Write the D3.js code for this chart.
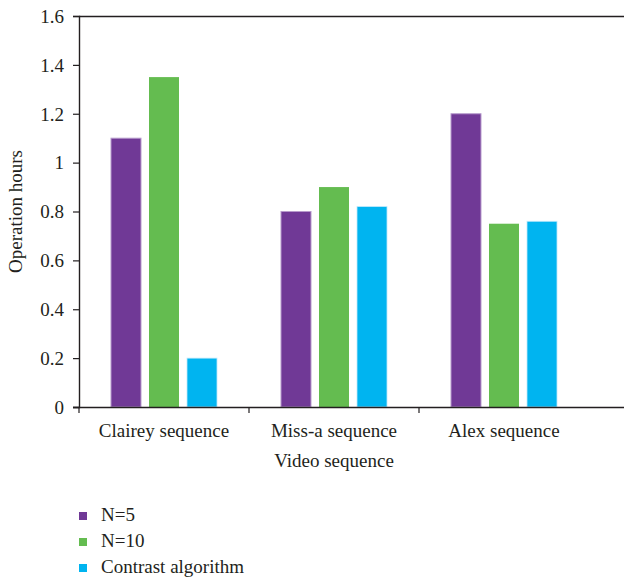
<!DOCTYPE html>
<html>
<head>
<meta charset="utf-8">
<script src="https://cdn.jsdelivr.net/npm/d3@7/dist/d3.min.js"></script>
<style>
  html, body { margin: 0; padding: 0; background: #fff; }
  svg { display: block; }
</style>
</head>
<body>
<div id="chart"></div>
<script>
const categories = ["Clairey sequence", "Miss-a sequence", "Alex sequence"];
const seriesNames = ["N=5", "N=10", "Contrast algorithm"];
const seriesColors = ["#703996", "#64bc50", "#00b4f0"];
const n5 = [1.1, 0.8, 1.2];
const n10 = [1.35, 0.9, 0.75];
const contrast = [0.2, 0.82, 0.76];
const yTicks = [0, 0.2, 0.4, 0.6, 0.8, 1, 1.2, 1.4, 1.6];
const xTitle = "Video sequence";
const yTitle = "Operation hours";

(function () {
const FONT = "'Liberation Serif', serif";
const FS = "19px";
const TXT = "#231f20";
const seriesValues = [n5, n10, contrast];

const W = 624, H = 582;
const svg = d3.select("#chart").append("svg").attr("width", W).attr("height", H)
  .style("font-family", FONT).style("font-size", FS);

const mLeft = 79, mRight = 589, mTop = 16, mBottom = 407;

const x = d3.scaleBand().domain(categories).range([mLeft, mRight]);
const xs = d3.scaleBand().domain(seriesNames).range([0, x.bandwidth()]).paddingInner(0.2105).paddingOuter(0.842);
const y = d3.scaleLinear().domain([0, 1.6]).range([mBottom, mTop]);

function txt(sel) {
  sel.style("font-family", FONT).style("font-size", FS).attr("fill", TXT);
}

// bars
categories.forEach((c, ci) => {
  seriesNames.forEach((s, si) => {
    const v = seriesValues[si][ci];
    svg.append("rect")
      .attr("x", x(c) + xs(s))
      .attr("y", y(v))
      .attr("width", xs.bandwidth())
      .attr("height", y(0) - y(v))
      .attr("fill", seriesColors[si])
      .attr("stroke", si === 0 ? "#b79bcc" : (si === 2 ? "#bfe9fb" : "none"))
      .attr("stroke-width", si === 0 ? 1 : 0.8);
  });
});

// top line
svg.append("line").attr("x1", mLeft).attr("x2", W).attr("y1", mTop + 0.5).attr("y2", mTop + 0.5)
  .attr("stroke", TXT).attr("stroke-width", 1.4);

// y axis
const yAxis = svg.append("g").attr("transform", `translate(${mLeft},0)`)
  .call(d3.axisLeft(y).tickValues(yTicks).tickSize(6).tickPadding(9).tickFormat(d => d3.format("")(d)));
yAxis.attr("font-family", null).attr("font-size", null);
yAxis.select(".domain").attr("stroke", TXT).attr("stroke-width", 1.4);
yAxis.selectAll(".tick line").attr("stroke", TXT).attr("stroke-width", 1.2);
yAxis.selectAll(".tick text").call(txt).attr("dy", "0.33em");

// x axis
const xAxisG = svg.append("g");
xAxisG.append("line").attr("x1", mLeft - 6).attr("x2", W).attr("y1", mBottom + 0.5).attr("y2", mBottom + 0.5)
  .attr("stroke", TXT).attr("stroke-width", 1.4);
categories.forEach(c => {
  xAxisG.append("line").attr("x1", x(c)).attr("x2", x(c)).attr("y1", mBottom).attr("y2", mBottom + 6)
    .attr("stroke", TXT).attr("stroke-width", 1.2);
  xAxisG.append("text").call(txt).attr("x", x(c) + x.bandwidth() / 2).attr("y", mBottom + 30)
    .attr("text-anchor", "middle").text(c);
});

// titles
svg.append("text").call(txt).attr("x", (mLeft + mRight) / 2).attr("y", mBottom + 60)
  .attr("text-anchor", "middle").text(xTitle);
svg.append("text").call(txt).attr("transform", `translate(21.5,${(mTop + mBottom) / 2}) rotate(-90)`)
  .attr("text-anchor", "middle").text(yTitle);

// legend
seriesNames.forEach((s, i) => {
  const cy = 516 + i * 26;
  svg.append("rect").attr("x", 79).attr("y", cy - 4).attr("width", 8).attr("height", 8).attr("fill", seriesColors[i]);
  svg.append("text").call(txt).attr("x", 101).attr("y", cy + 5).text(s);
});
})();
</script>
</body>
</html>
